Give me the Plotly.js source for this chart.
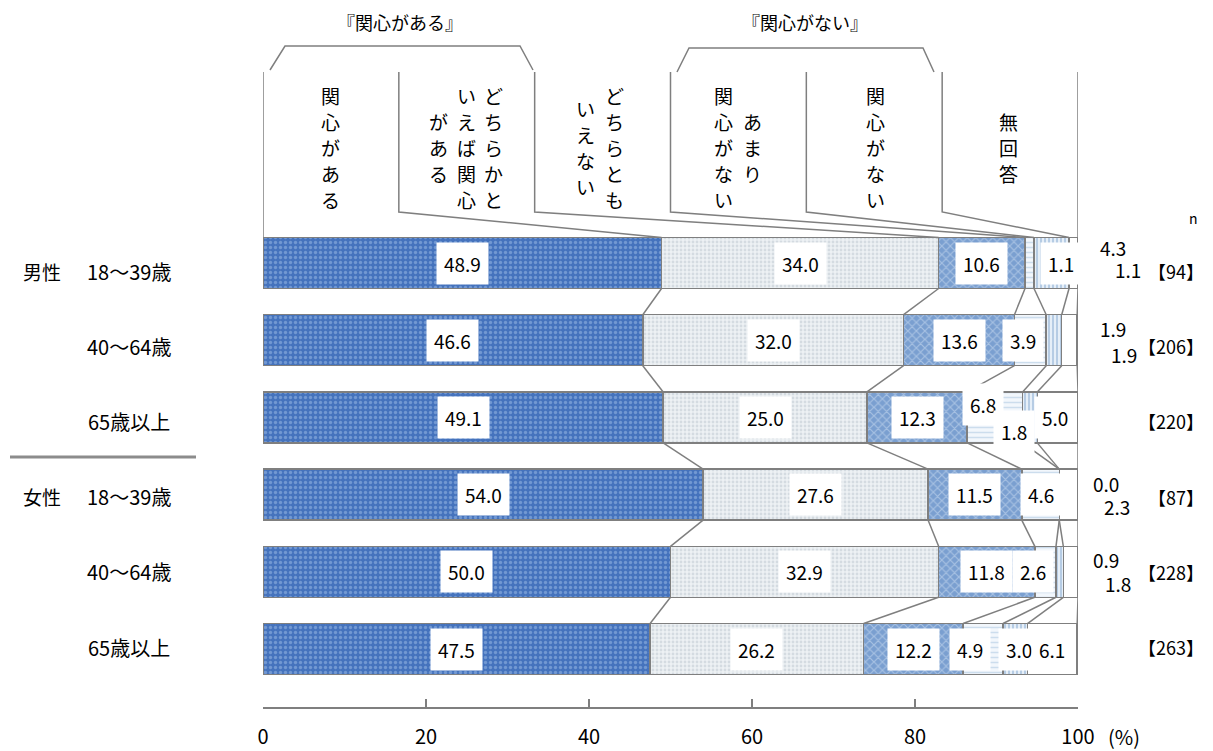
<!DOCTYPE html>
<html><head><meta charset="utf-8">
<script src="https://cdn.plot.ly/plotly-3.0.1.min.js"></script>
<style>html,body{margin:0;padding:0;background:#fff;}#chart{width:1213px;height:751px;}</style>
</head><body><div id="chart"></div>
<script>
// ---- data ----
const categories = ['関心がある','どちらかといえば関心がある','どちらともいえない','あまり関心がない','関心がない','無回答'];
const rowGroups = ['男性','','','女性','',''];
const rowAges = ['18〜39歳','40〜64歳','65歳以上','18〜39歳','40〜64歳','65歳以上'];
const rowN = ['【94】','【206】','【220】','【87】','【228】','【263】'];
const kanshinAru   = [48.9, 46.6, 49.1, 54.0, 50.0, 47.5];
const dochirakaAru = [34.0, 32.0, 25.0, 27.6, 32.9, 26.2];
const dochiramo    = [10.6, 13.6, 12.3, 11.5, 11.8, 12.2];
const amariNai     = [1.1, 3.9, 6.8, 4.6, 2.6, 4.9];
const kanshinNai   = [4.3, 1.9, 1.8, 0.0, 0.9, 3.0];
const muKaitou     = [1.1, 1.9, 5.0, 2.3, 1.8, 6.1];
const xTicks = [0, 20, 40, 60, 80, 100];
const series = [kanshinAru, dochirakaAru, dochiramo, amariNai, kanshinNai, muKaitou];

// header column texts (vertical writing, right-to-left columns)
const headerCols = [
  ['関心がある'],
  ['どちらかと','いえば関心','がある'],
  ['どちらとも','いえない'],
  ['あまり','関心がない'],
  ['関心がない'],
  ['無回答']
];

// ---- geometry helpers (style) ----
const FONT = 'Noto Sans CJK JP, Noto Sans, sans-serif';
const L = 263, R = 1078, PXU = (R - L) / 100;
const ROW0 = 263, ROWSTEP = 77.2, HALF = 0.33, AXB = 707;
const xOf = p => (p - L) / PXU;
const yOf = p => (p - ROW0) / ROWSTEP;
const pxX = p => (p - L) / (R - L);   // paper x from pixel
const pxY = p => 1 - p / AXB;         // paper y from pixel
const rows = [0,1,2,3,4,5];
const GRAY = '#7f7f7f';

const styles = [
  {color:'#4573bd', fg:'#9fbde8', shape:'.', size:5, sol:0.35},
  {color:'#edf1f4', fg:'#bcc6ce', shape:'.', size:4, sol:0.4},
  {color:'#7a9fd0', fg:'#d4e3f4', shape:'x', size:6, sol:0.35},
  {color:'#f2f7fc', fg:'#a6c3de', shape:'-', size:5, sol:0.3},
  {color:'#e6eff8', fg:'#6d98c6', shape:'|', size:4, sol:0.4},
  {color:'#ffffff', fg:'#ffffff', shape:'', size:4, sol:0.3}
];

const traces = categories.map((c, k) => ({
  type:'bar', orientation:'h', name:c, x:series[k], y:rows, width:2*HALF,
  marker:{color:styles[k].color,
    pattern:{shape:styles[k].shape, fgcolor:styles[k].fg, size:styles[k].size, solidity:styles[k].sol, fillmode:'overlay'},
    line:{color:GRAY, width:1.5}},
  hoverinfo:'skip', showlegend:false
}));

// cumulative boundaries
const cum = rows.map(i => {
  const a = [0];
  series.forEach(s => a.push(a[a.length-1] + s[i]));
  return a;
});

// connector lines between rows + header leader lines
const lx = [], ly = [];
for (let i = 0; i < rows.length - 1; i++) {
  for (let k = 1; k <= series.length; k++) {
    lx.push(cum[i][k], cum[i+1][k], null);
    ly.push(i + HALF, i + 1 - HALF, null);
  }
}
const hTop = yOf(72), hBot = yOf(212);
for (let k = 0; k <= series.length; k++) {
  const hx = k * 100 / series.length;
  lx.push(hx, hx, cum[0][k], null);
  ly.push(hTop, hBot, -HALF, null);
}
// brackets
lx.push(xOf(270), xOf(285), xOf(520), xOf(533), null);
ly.push(yOf(70), yOf(46), yOf(46), yOf(70), null);
lx.push(xOf(677), xOf(689), xOf(923), xOf(934), null);
ly.push(yOf(72), yOf(48), yOf(48), yOf(72), null);
traces.push({type:'scatter', mode:'lines', x:lx, y:ly, line:{color:GRAY, width:1.5},
  hoverinfo:'skip', showlegend:false, cliponaxis:false});

const ann = [];
// value labels
const place = { // row-seg : {dx,dy,out}
  '0-3':{dx:31}, '0-4':{out:true,dx:35,dy:16}, '0-5':{out:true,dx:50,dy:-6},
  '1-3':{dx:-7}, '1-4':{out:true,dx:35,dy:12}, '1-5':{out:true,dx:46,dy:-14},
  '2-3':{dx:-12,dy:13}, '2-4':{dx:-16,dy:-14}, '2-5':{dx:-3},
  '3-4':{out:true,dx:28,dy:11}, '3-5':{out:true,dx:39,dy:-12},
  '4-3':{dx:-12}, '4-4':{out:true,dx:28,dy:12}, '4-5':{out:true,dx:40,dy:-12},
  '5-3':{dx:-13}, '5-4':{dx:4}
};
const LBL = {family:FONT, size:19, color:'#000'};
const TXT = {family:FONT, size:18, color:'#000'};
const AGE = {family:FONT, size:20, color:'#000'};
rows.forEach(i => {
  series.forEach((s, k) => {
    const p = place[i + '-' + k] || {};
    const out = !!p.out;
    ann.push({
      x: out ? 100 : cum[i][k] + s[i] / 2, y: i, xref:'x', yref:'y',
      xanchor:'center', yanchor:'middle',
      xshift: p.dx || 0, yshift: p.dy || 0,
      text: s[i].toFixed(1), showarrow:false, font:LBL,
      bgcolor: out ? 'rgba(0,0,0,0)' : '#ffffff', borderpad: out ? 0 : 7
    });
  });
  // row labels (paper refs so they can sit outside the plot)
  const rowPx = 271 + 75.2 * i;
  if (rowGroups[i]) ann.push({x:pxX(42), y:pxY(rowPx), xref:'paper', yref:'paper', xanchor:'center', yanchor:'middle',
    text:rowGroups[i], showarrow:false, font:{family:FONT, size:19, color:'#000'}});
  ann.push({x:pxX(129), y:pxY(rowPx), xref:'paper', yref:'paper', xanchor:'center', yanchor:'middle',
    text:rowAges[i], showarrow:false, font:AGE});
  ann.push({x:pxX(1206), y:pxY(rowPx), xref:'paper', yref:'paper', xanchor:'right', yanchor:'middle',
    text:rowN[i], showarrow:false, font:TXT});
});

// header vertical text, one annotation per character
const headerXs = [[330],[493,466,438],[614,585],[752,723],[875],[1008]];
const charStep = 26, charMid = 147;
headerCols.forEach((cols, c) => {
  cols.forEach((str, j) => {
    const chars = Array.from(str);
    chars.forEach((ch, m) => {
      const py = charMid + (m - (chars.length - 1) / 2) * charStep;
      ann.push({x:xOf(headerXs[c][j]), y:yOf(py), xref:'x', yref:'y', xanchor:'center', yanchor:'middle',
        text:ch, showarrow:false, font:{family:FONT, size:19, color:'#000'}});
    });
  });
});
ann.push({x:xOf(400), y:yOf(22), xref:'x', yref:'y', xanchor:'center', yanchor:'middle', text:'『関心がある』', showarrow:false, font:TXT});
ann.push({x:xOf(805), y:yOf(22), xref:'x', yref:'y', xanchor:'center', yanchor:'middle', text:'『関心がない』', showarrow:false, font:TXT});
ann.push({x:pxX(1193), y:pxY(218), xref:'paper', yref:'paper', xanchor:'center', yanchor:'middle', text:'n', showarrow:false, font:{family:FONT, size:14, color:'#000'}});
ann.push({x:pxX(1124), y:pxY(736), xref:'paper', yref:'paper', xanchor:'center', yanchor:'middle', text:'(%)', showarrow:false, font:{family:FONT, size:20, color:'#000'}});

const layout = {
  width:1213, height:751, margin:{l:L, r:1213-R, t:0, b:751-AXB},
  paper_bgcolor:'#fff', plot_bgcolor:'#fff', barmode:'stack', showlegend:false,
  xaxis:{range:[0,100], tickvals:xTicks, ticktext:xTicks.map(String), showgrid:false, zeroline:false,
    showline:true, linecolor:GRAY, linewidth:2, ticks:'inside', ticklen:8, tickwidth:2, tickcolor:GRAY,
    ticklabelstandoff:11, tickfont:{family:FONT, size:20, color:'#000'}, fixedrange:true},
  yaxis:{range:[yOf(AXB), yOf(0)], showticklabels:false, showgrid:false, zeroline:false, showline:false, fixedrange:true},
  annotations:ann,
  shapes:[{type:'line', xref:'paper', yref:'paper', x0:pxX(10), x1:pxX(196), y0:pxY(457), y1:pxY(457),
    line:{color:'#8c8c8c', width:3}}]
};
Plotly.newPlot('chart', traces, layout, {displayModeBar:false, staticPlot:true});
</script></body></html>
